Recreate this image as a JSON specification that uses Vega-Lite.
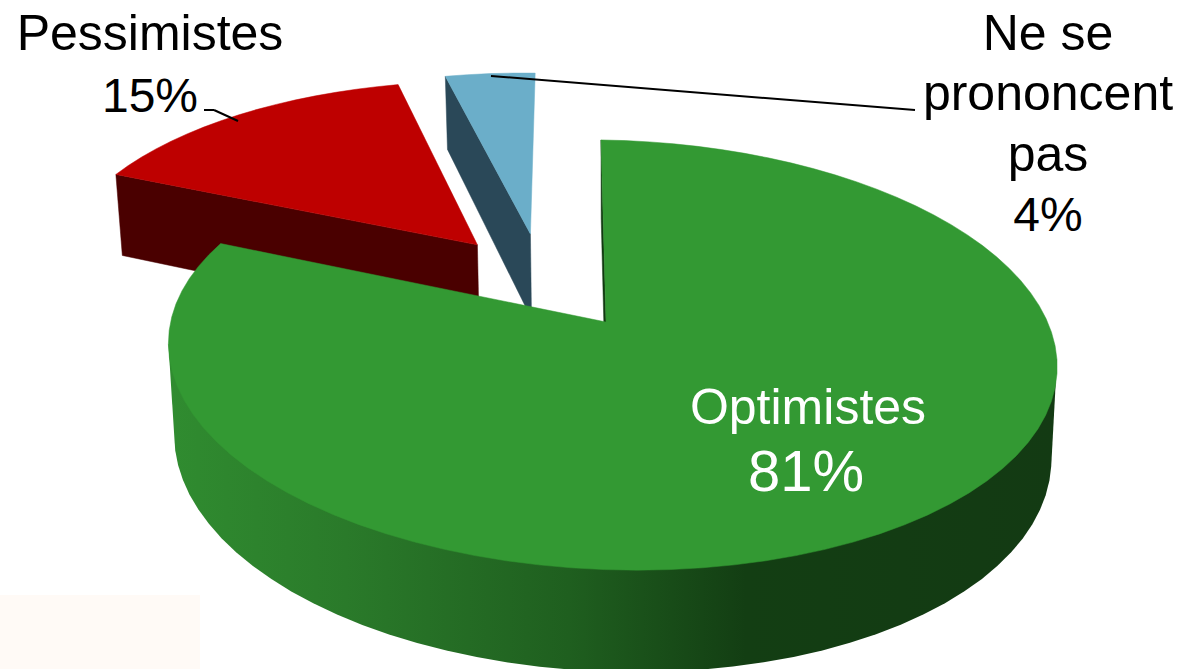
{"$schema":"https://vega.github.io/schema/vega-lite/v6.json","width":1185,"height":669,"autosize":{"type":"fit","contains":"padding"},"padding":0,"background":"white","config":{"view":{"stroke":null},"axis":{"disable":true}},
"data":{"values":[
{"label":"Optimistes","value":81,"ord":1,"steps":[-3,-2,-1,0,0.0125,0.025,0.0375,0.05,0.0625,0.075,0.0875,0.1,0.1125,0.125,0.1375,0.15,0.1625,0.175,0.1875,0.2,0.2125,0.225,0.2375,0.25,0.2625,0.275,0.2875,0.3,0.3125,0.325,0.3375,0.35,0.3625,0.375,0.3875,0.4,0.4125,0.425,0.4375,0.45,0.4625,0.475,0.4875,0.5,0.5125,0.525,0.5375,0.55,0.5625,0.575,0.5875,0.6,0.6125,0.625,0.6375,0.65,0.6625,0.675,0.6875,0.7,0.7125,0.725,0.7375,0.75,0.7625,0.775,0.7875,0.8,0.8125,0.825,0.8375,0.85,0.8625,0.875,0.8875,0.9,0.9125,0.925,0.9375,0.95,0.9625,0.975,0.9875,1]},
{"label":"Pessimistes","value":15,"ord":2,"steps":[-3,-2,-1,0,0.0625,0.125,0.1875,0.25,0.3125,0.375,0.4375,0.5,0.5625,0.625,0.6875,0.75,0.8125,0.875,0.9375,1]},
{"label":"Ne se prononcent pas","value":4,"ord":3,"steps":[-3,-2,-1,0,0.25,0.5,0.75,1]}
]},
"transform":[
{"stack":"value","groupby":[],"sort":[{"field":"ord"}],"as":["s0","s1"]},
{"flatten":["steps"],"as":["f"]},
{"calculate":"datum.ord==2?-0.305:datum.ord==3?-0.178:0","as":"du"},
{"calculate":"datum.ord==2?-0.38:datum.ord==3?-0.4425:0","as":"dv"},
{"calculate":"(datum.s0+max(datum.f,0)*datum.value)*3.6","as":"deg"},
{"calculate":"(datum.f==-1||datum.f==-2)?datum.du:datum.du+sin(datum.deg*PI/180)","as":"u"},
{"calculate":"(datum.f==-1||datum.f==-2)?datum.dv:datum.dv-cos(datum.deg*PI/180)","as":"v"},
{"calculate":"1-0.1535*datum.v","as":"w"},
{"calculate":"datum.ord==1?606+5*sqrt(datum.u*datum.u+datum.v*datum.v)+(439*datum.u+11.5*datum.v)/datum.w:606+(439*datum.u+5.8*datum.v)/datum.w","as":"px"},
{"calculate":"322+(210*datum.v+6*datum.u)/datum.w","as":"py"},
{"calculate":"datum.px+0.013*(612-datum.px)","as":"bx"},
{"calculate":"datum.py+90+12*datum.v","as":"by"},
{"calculate":"datum.f<=-2?datum.bx:datum.px","as":"fx"},
{"calculate":"datum.f<=-2?datum.by:datum.py","as":"fy"},
{"calculate":"(datum.deg<98.5||datum.deg>262)?datum.px:datum.bx","as":"wx"},
{"calculate":"(datum.deg<98.5||datum.deg>262)?datum.py:datum.by","as":"wy"}
],
"encoding":{
"x":{"field":"px","type":"quantitative","scale":{"domain":[0,1185]},"axis":null},
"y":{"field":"py","type":"quantitative","scale":{"domain":[669,0]},"axis":null}
},
"layer":[
{"transform":[{"filter":"datum.ord==1&&datum.f==-1"}],"mark":{"type":"rect","color":"#FFFAF6"},"encoding":{"x":{"datum":0},"x2":{"datum":200},"y":{"datum":595},"y2":{"datum":669}}},
{"transform":[{"filter":"datum.ord==3&&datum.f<=0"}],"mark":{"type":"line","interpolate":"linear-closed","fill":"#2A4858","stroke":"#2A4858","strokeWidth":0.5},"encoding":{"x":{"field":"fx","type":"quantitative"},"y":{"field":"fy","type":"quantitative"},"order":{"field":"f"}}},
{"transform":[{"filter":"datum.ord==3&&datum.f>=-1"}],"mark":{"type":"line","interpolate":"linear-closed","fill":"#6BAEC9","stroke":"#6BAEC9","strokeWidth":0.5},"encoding":{"order":{"field":"f"}}},
{"transform":[{"filter":"datum.ord==2&&datum.f<=0"}],"mark":{"type":"line","interpolate":"linear-closed","fill":"#4A0000","stroke":"#4A0000","strokeWidth":0.5},"encoding":{"x":{"field":"fx","type":"quantitative"},"y":{"field":"fy","type":"quantitative"},"order":{"field":"f"}}},
{"transform":[{"filter":"datum.ord==2&&datum.f>=-1"}],"mark":{"type":"line","interpolate":"linear-closed","fill":"#BE0000","stroke":"#BE0000","strokeWidth":0.5},"encoding":{"order":{"field":"f"}}},
{"transform":[{"filter":"datum.ord==1&&datum.f<=0"}],"mark":{"type":"line","interpolate":"linear-closed","fill":"#123A12","stroke":"#123A12","strokeWidth":0.5},"encoding":{"x":{"field":"fx","type":"quantitative"},"y":{"field":"fy","type":"quantitative"},"order":{"field":"f"}}},
{"transform":[{"filter":"datum.ord==1&&datum.f>=0&&datum.deg>=98&&datum.deg<=263"}],"mark":{"type":"line","interpolate":"linear-closed","clip":true,"strokeWidth":0,"fill":{"gradient":"linear","x1":0,"x2":1,"y1":0,"y2":0,"stops":[{"offset":0,"color":"#308C30"},{"offset":0.2,"color":"#2A7A2A"},{"offset":0.45,"color":"#1F5F1F"},{"offset":0.65,"color":"#133E13"},{"offset":1,"color":"#133A13"}]}},"encoding":{"x":{"field":"wx","type":"quantitative"},"y":{"field":"wy","type":"quantitative"},"order":{"field":"f"}}},
{"transform":[{"filter":"datum.ord==1&&datum.f>=-1"}],"mark":{"type":"line","interpolate":"linear-closed","fill":"#339933","stroke":"#339933","strokeWidth":0.5},"encoding":{"order":{"field":"f"}}},
{"transform":[{"filter":"datum.ord==1&&datum.f==-1"}],"mark":{"type":"rule","color":"black","strokeWidth":2},"encoding":{"x":{"datum":491},"x2":{"datum":915},"y":{"datum":76},"y2":{"datum":110}}},
{"transform":[{"filter":"datum.ord==1&&datum.f==-1"}],"mark":{"type":"rule","color":"black","strokeWidth":2},"encoding":{"x":{"datum":204},"x2":{"datum":214},"y":{"datum":110},"y2":{"datum":110}}},
{"transform":[{"filter":"datum.ord==1&&datum.f==-1"}],"mark":{"type":"rule","color":"black","strokeWidth":2},"encoding":{"x":{"datum":214},"x2":{"datum":238},"y":{"datum":110},"y2":{"datum":121}}},
{"transform":[{"filter":"datum.ord==1&&datum.f==-1"}],"mark":{"type":"text","font":"Liberation Sans","fontSize":50,"color":"white","baseline":"alphabetic","align":"center"},"encoding":{"x":{"datum":808},"y":{"datum":424},"text":{"field":"label"}}},
{"transform":[{"filter":"datum.ord==1&&datum.f==-1"},{"calculate":"datum.value+'%'","as":"pct"}],"mark":{"type":"text","font":"Liberation Sans","fontSize":58,"color":"white","baseline":"alphabetic","align":"center"},"encoding":{"x":{"datum":806},"y":{"datum":491},"text":{"field":"pct"}}},
{"transform":[{"filter":"datum.ord==2&&datum.f==-1"}],"mark":{"type":"text","font":"Liberation Sans","fontSize":50,"color":"black","baseline":"alphabetic","align":"center"},"encoding":{"x":{"datum":150},"y":{"datum":50},"text":{"field":"label"}}},
{"transform":[{"filter":"datum.ord==2&&datum.f==-1"},{"calculate":"datum.value+'%'","as":"pct"}],"mark":{"type":"text","font":"Liberation Sans","fontSize":48,"color":"black","baseline":"alphabetic","align":"center"},"encoding":{"x":{"datum":150},"y":{"datum":112},"text":{"field":"pct"}}},
{"transform":[{"filter":"datum.ord==3&&datum.f==-1"}],"mark":{"type":"text","font":"Liberation Sans","fontSize":50,"color":"black","baseline":"alphabetic","align":"center"},"encoding":{"x":{"datum":1048},"y":{"datum":50},"text":{"value":"Ne se"}}},
{"transform":[{"filter":"datum.ord==3&&datum.f==-1"}],"mark":{"type":"text","font":"Liberation Sans","fontSize":50,"color":"black","baseline":"alphabetic","align":"center"},"encoding":{"x":{"datum":1048},"y":{"datum":110},"text":{"value":"prononcent"}}},
{"transform":[{"filter":"datum.ord==3&&datum.f==-1"}],"mark":{"type":"text","font":"Liberation Sans","fontSize":50,"color":"black","baseline":"alphabetic","align":"center"},"encoding":{"x":{"datum":1048},"y":{"datum":171},"text":{"value":"pas"}}},
{"transform":[{"filter":"datum.ord==3&&datum.f==-1"},{"calculate":"datum.value+'%'","as":"pct"}],"mark":{"type":"text","font":"Liberation Sans","fontSize":48,"color":"black","baseline":"alphabetic","align":"center"},"encoding":{"x":{"datum":1048},"y":{"datum":231},"text":{"field":"pct"}}}
]}
